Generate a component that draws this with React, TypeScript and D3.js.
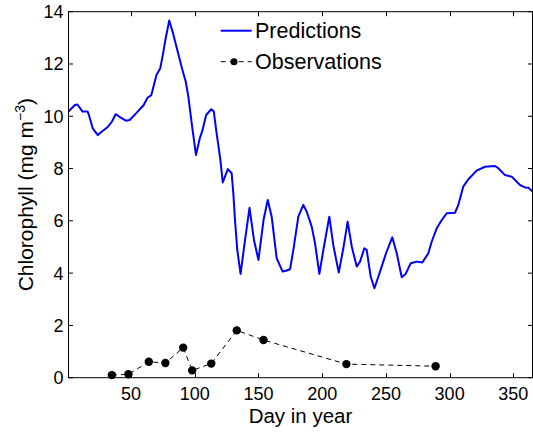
import React, { useEffect, useRef } from 'react';
import * as d3 from 'd3';

// model predictions (day in year, chlorophyll)
const predDays = [
  1, 6, 8, 12, 16, 17, 20, 24, 27, 32, 35, 38, 41, 46, 49, 54, 60, 63, 66, 68, 70, 73, 75, 77, 80,
  83, 87, 90, 93, 95, 98, 101, 104, 106, 109, 113, 115, 117, 120, 122, 126, 129, 130.3, 131.6, 133.4,
  136, 139.5, 143, 146.5, 150, 154, 157.3, 160.4, 164.3, 169, 171.6, 174.8, 177.4, 181.3, 185.2,
  187.9, 191.8, 194.4, 197.8, 201.4, 205.6, 208.7, 213, 216.6, 220, 223.2, 227.1, 229.7, 233.1,
  234.9, 238.1, 241, 245.4, 250.1, 255, 258.5, 262.4, 265.5, 269.5, 274.2, 278.6, 283.3, 285.9,
  289.9, 293.8, 297.7, 304.2, 306.8, 310.7, 314.7, 321.2, 327.7, 335.6, 338.2, 343.4, 348.7, 355.2,
  359.1, 361.7, 365,
];
const predValues = [
  10.18, 10.43, 10.45, 10.18, 10.18, 10.05, 9.54, 9.28, 9.41, 9.6, 9.79, 10.08, 9.98, 9.83, 9.86,
  10.11, 10.43, 10.71, 10.81, 11.2, 11.58, 11.84, 12.35, 12.92, 13.66, 13.18, 12.41, 11.84, 11.32,
  10.75, 9.6, 8.52, 9.16, 9.45, 10.05, 10.27, 10.18, 9.41, 8.39, 7.47, 7.98, 7.82, 7.05, 6.03, 4.89,
  3.97, 5.27, 6.5, 5.27, 4.5, 6.03, 6.8, 6.16, 4.57, 4.06, 4.09, 4.15, 4.89, 6.16, 6.61,
  6.35, 5.78, 5.14, 3.97, 5.02, 6.16, 5.08, 4.02, 4.95, 5.97, 5.02, 4.25, 4.44, 4.95,
  4.89, 3.86, 3.42, 4.06, 4.76, 5.37, 4.76, 3.84, 3.97, 4.38, 4.44, 4.41, 4.76, 5.2,
  5.72, 6.03, 6.29, 6.31, 6.61, 7.31, 7.59, 7.92, 8.07, 8.1, 8.01, 7.75, 7.69, 7.37,
  7.28, 7.27, 7.12,
];

// field observations
const obsDays = [35, 48, 64, 77, 91, 98, 113, 133, 154, 219, 289];
const obsValues = [0.1, 0.13, 0.61, 0.56, 1.15, 0.28, 0.54, 1.81, 1.44, 0.52, 0.44];

const xTicks = [50, 100, 150, 200, 250, 300, 350];
const yTicks = [0, 2, 4, 6, 8, 10, 12, 14];
const legendLabels = ['Predictions', 'Observations'];

const W = 533;
const H = 432;
const margin = { top: 11.7, right: 0.5, bottom: 54.3, left: 68.5 };
const font = '"Liberation Sans", Arial, Helvetica, sans-serif';

const App = () => {
  const ref = useRef<SVGSVGElement>(null);

  useEffect(() => {
    const svg = d3.select(ref.current);
    svg.selectAll('*').remove();

    const x0 = margin.left;
    const x1 = W - margin.right;
    const y0 = margin.top;
    const y1 = H - margin.bottom;

    const x = d3.scaleLinear().domain([1, 365]).range([x0, x1]);
    const y = d3.scaleLinear().domain([0, 14]).range([y1, y0]);

    const pred = predDays.map((d, i) => [d, predValues[i]] as [number, number]);
    const obs = obsDays.map((d, i) => [d, obsValues[i]] as [number, number]);

    const line = d3
      .line<[number, number]>()
      .x(d => x(d[0]))
      .y(d => y(d[1]));

    // observations, dashed with dots
    svg
      .append('path')
      .datum(obs)
      .attr('d', line)
      .attr('fill', 'none')
      .attr('stroke', '#000')
      .attr('stroke-width', 1)
      .attr('stroke-dasharray', '5,4');

    svg
      .append('g')
      .selectAll('circle')
      .data(obs)
      .join('circle')
      .attr('cx', d => x(d[0]))
      .attr('cy', d => y(d[1]))
      .attr('r', 4.2)
      .attr('fill', '#000');

    // predictions
    svg
      .append('path')
      .datum(pred)
      .attr('d', line)
      .attr('fill', 'none')
      .attr('stroke', '#0000ff')
      .attr('stroke-width', 2)
      .attr('stroke-linejoin', 'round');

    // box + inward ticks
    const tl = 4.5;
    const axes = svg.append('g').attr('stroke', '#000').attr('stroke-width', 1);
    axes
      .append('rect')
      .attr('x', x0)
      .attr('y', y0)
      .attr('width', x1 - x0)
      .attr('height', y1 - y0)
      .attr('fill', 'none');

    xTicks.forEach(t => {
      const px = Math.round(x(t)) + 0.5;
      axes.append('line').attr('x1', px).attr('x2', px).attr('y1', y1).attr('y2', y1 - tl);
      axes.append('line').attr('x1', px).attr('x2', px).attr('y1', y0).attr('y2', y0 + tl);
    });
    yTicks.forEach(t => {
      const py = y(t);
      axes.append('line').attr('x1', x0).attr('x2', x0 + tl).attr('y1', py).attr('y2', py);
      axes.append('line').attr('x1', x1).attr('x2', x1 - tl).attr('y1', py).attr('y2', py);
    });

    const txt = svg.append('g').attr('font-family', font).attr('fill', '#000');

    txt
      .selectAll('text.xt')
      .data(xTicks)
      .join('text')
      .attr('class', 'xt')
      .attr('x', d => x(d))
      .attr('y', y1 + 22.5)
      .attr('text-anchor', 'middle')
      .attr('font-size', 18)
      .text(d => d);

    txt
      .selectAll('text.yt')
      .data(yTicks)
      .join('text')
      .attr('class', 'yt')
      .attr('x', x0 - 5)
      .attr('y', d => y(d) + 6.5)
      .attr('text-anchor', 'end')
      .attr('font-size', 18)
      .text(d => d);

    txt
      .append('text')
      .attr('x', (x0 + x1) / 2)
      .attr('y', 423)
      .attr('text-anchor', 'middle')
      .attr('font-size', 20.5)
      .text('Day in year');

    const yl = txt
      .append('text')
      .attr('transform', `translate(33,${(y0 + y1) / 2}) rotate(-90)`)
      .attr('text-anchor', 'middle')
      .attr('font-size', 21);
    yl.append('tspan').text('Chlorophyll (mg m');
    yl.append('tspan').attr('font-size', 14).attr('dy', -8).text('\u22123');
    yl.append('tspan').attr('dy', 8).text(')');

    // legend
    const lg = svg.append('g');
    lg.append('line')
      .attr('x1', 220.7)
      .attr('x2', 251.7)
      .attr('y1', 30.7)
      .attr('y2', 30.7)
      .attr('stroke', '#0000ff')
      .attr('stroke-width', 2);
    lg.append('line')
      .attr('x1', 220.7)
      .attr('x2', 251.7)
      .attr('y1', 61.7)
      .attr('y2', 61.7)
      .attr('stroke', '#000')
      .attr('stroke-width', 1)
      .attr('stroke-dasharray', '5,4');
    lg.append('circle').attr('cx', 234).attr('cy', 61.7).attr('r', 3.5).attr('fill', '#000');
    lg.selectAll('text')
      .data(legendLabels)
      .join('text')
      .attr('x', 255)
      .attr('y', (d, i) => 38 + i * 31)
      .attr('font-family', font)
      .attr('font-size', 21.5)
      .text(d => d);
  }, []);

  return (
    <svg
      ref={ref}
      width={W}
      height={H}
      style={{ position: 'absolute', left: 0, top: 0, background: '#fff' }}
    />
  );
};

export default App;
